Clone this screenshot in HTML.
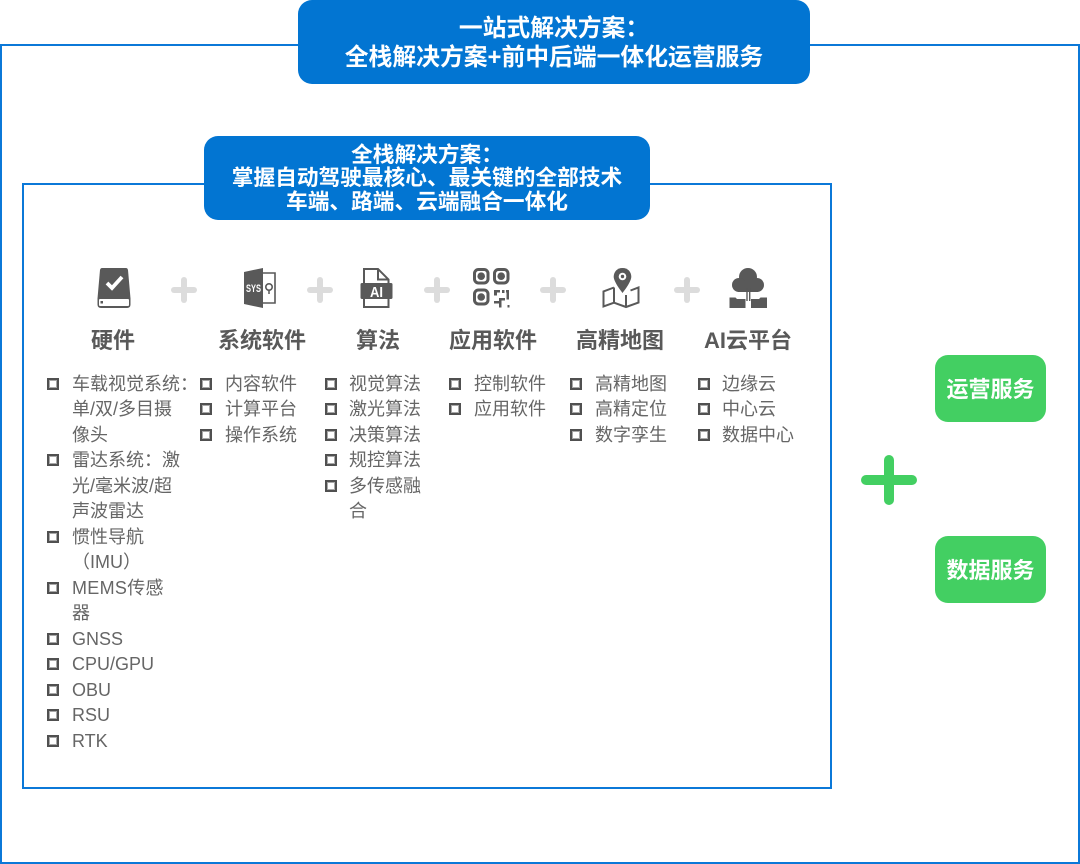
<!DOCTYPE html>
<html lang="zh">
<head>
<meta charset="utf-8">
<style>
html,body{margin:0;padding:0;background:#fff}
#p{position:relative;width:1080px;height:864px;overflow:hidden;background:#fff;font-family:"Liberation Sans","Noto Sans CJK SC",sans-serif}
#p>div{position:absolute;box-sizing:border-box}
.t{white-space:nowrap;line-height:26px;height:26px;font-size:18px;color:#666}
.h{white-space:nowrap;line-height:30px;height:30px;font-size:22px;font-weight:700;color:#595959;text-align:center;width:140px}
.w{white-space:nowrap;color:#fff;font-weight:700;text-align:center;left:0;width:100%}
.b{width:12px;height:12px;border:2px solid #505050;box-shadow:inset 0 0 0 1px #a8a8a8}
.g{left:935px;width:111px;height:67px;background:#43cf62;border-radius:13px;color:#fff;font-size:22px;font-weight:700;text-align:center;line-height:69px}
.pl{width:26px;height:26px}
.pl:before,.pl:after{content:"";position:absolute;background:#dcdcdc;border-radius:3px}
.pl:before{left:0;top:10px;width:26px;height:6px}
.pl:after{left:10px;top:0;width:6px;height:26px}
svg{position:absolute;overflow:visible}
</style>
</head>
<body>
<div id="p">
<div style="left:0;top:44px;width:1080px;height:820px;border:2px solid #0b78d8"></div>
<div style="left:22px;top:183px;width:810px;height:606px;border:2px solid #0b78d8"></div>

<div style="left:298px;top:0;width:512px;height:84px;background:#0275d2;border-radius:14px">
<div class="w" style="position:absolute;top:14px;font-size:23.8px;line-height:30px">一站式解决方案：</div>
<div class="w" style="position:absolute;top:43px;font-size:23.8px;line-height:30px">全栈解决方案+前中后端一体化运营服务</div>
</div>
<div style="left:204px;top:136px;width:446px;height:84px;background:#0275d2;border-radius:14px">
<div class="w" style="position:absolute;top:5px;font-size:21.7px;line-height:28px">全栈解决方案：</div>
<div class="w" style="position:absolute;top:28px;font-size:21.7px;line-height:28px">掌握自动驾驶最核心、最关键的全部技术</div>
<div class="w" style="position:absolute;top:52px;font-size:21.7px;line-height:28px">车端、路端、云端融合一体化</div>
</div>

<!-- icons -->
<svg style="left:0;top:0" width="1080" height="864" viewBox="0 0 1080 864">
<g fill="#595959">
<!-- disk -->
<path d="M102 268h24q1.500 0 2 2l2.500 28.500v6q0 3.500-3.500 3.500h-26q-3.500 0-3.500-3.500v-6l2.500-28.500q.5-2 2-2z"/>
<rect x="99" y="299" width="30" height="7" rx="1" fill="#fff"/>
<rect x="100.500" y="301" width="2.500" height="2.500" fill="#595959"/>
<path d="M107 283l5 5 10-11" fill="none" stroke="#fff" stroke-width="3.800"/>
<!-- sys -->
<path d="M244 272l19-4v40l-19-4z"/>
<path d="M263 273h12v30h-12" fill="none" stroke="#595959" stroke-width="1.600"/>
<circle cx="269" cy="287" r="3.200" fill="none" stroke="#595959" stroke-width="1.600"/>
<path d="M269 290.500v3.500" stroke="#595959" stroke-width="1.500"/>
<text x="246" y="292" font-family="Liberation Sans" font-size="11" font-weight="700" fill="#fff" textLength="15" lengthAdjust="spacingAndGlyphs">SYS</text>
<!-- AI file -->
<path d="M364 307v-38h14l10.500 10.500v27.500z" fill="none" stroke="#595959" stroke-width="2"/>
<path d="M378 269v10.500h10.500" fill="none" stroke="#595959" stroke-width="2"/>
<rect x="360.500" y="283" width="32" height="16" rx="1.500"/>
<text x="376.500" y="297" text-anchor="middle" font-family="Liberation Sans" font-size="15" font-weight="700" fill="#fff" textLength="13" lengthAdjust="spacingAndGlyphs">AI</text>
<!-- QR -->
<g fill="none" stroke="#595959" stroke-width="3">
<rect x="474.500" y="269.500" width="13.500" height="13.500" rx="4"/>
<rect x="494.500" y="269.500" width="13.500" height="13.500" rx="4"/>
<rect x="474.500" y="290" width="13.500" height="14" rx="4"/>
</g>
<circle cx="481.200" cy="276.200" r="3.800"/><circle cx="501.200" cy="276.200" r="3.800"/><circle cx="481.200" cy="297" r="3.800"/>
<path d="M494 290h6v2.500h-3v3h-3zM502 290h2.500v3H502zM506 290h3v9.500h-2.500v-7H506zM494 301h5v-3h6v2.500h-3.500v7h-2.500v-4h-5zM507.500 305h2v2.500h-2z"/>
<!-- map -->
<path d="M622.500 268c-5.400 0-8.800 3.900-8.800 8.800 0 5.400 8.800 16.200 8.800 16.200s8.800-10.800 8.800-16.200c0-4.900-3.400-8.800-8.800-8.800z"/>
<circle cx="622.500" cy="276.500" r="3.800" fill="#fff"/><circle cx="622.500" cy="276.500" r="1.700"/>
<path d="M614 287.500l-10.500 4v15l10.500-3.800 12 4.300 12.500-4.500v-15l-8 3M614 287.500v15.200M626 295v12" fill="none" stroke="#595959" stroke-width="2"/>
<!-- cloud -->
<circle cx="748" cy="277" r="9"/><circle cx="739" cy="285" r="7"/><circle cx="757" cy="285" r="7"/><rect x="738" y="281" width="20" height="11"/>
<rect x="746.300" y="288" width="1.400" height="13"/><rect x="749" y="288" width="1.400" height="13"/>
<path d="M729.500 297.500h6l1.500 1.500h8.500v9h-16zM751 299h8l1.500-1.500h6.500v10.500h-16z"/>
</g>
</svg>

<div class="pl" style="left:171px;top:277px"></div>
<div class="pl" style="left:307px;top:277px"></div>
<div class="pl" style="left:424px;top:277px"></div>
<div class="pl" style="left:540px;top:277px"></div>
<div class="pl" style="left:674px;top:277px"></div>

<div class="h" style="left:43px;top:326px">硬件</div>
<div class="h" style="left:192px;top:326px">系统软件</div>
<div class="h" style="left:308px;top:326px">算法</div>
<div class="h" style="left:423px;top:326px">应用软件</div>
<div class="h" style="left:550px;top:326px">高精地图</div>
<div class="h" style="left:678px;top:326px">AI云平台</div>

<!-- col 1 -->
<div class="b" style="left:47px;top:378px"></div><div class="t" style="left:72px;top:371px">车载视觉系统：</div>
<div class="t" style="left:72px;top:396px">单/双/多目摄</div>
<div class="t" style="left:72px;top:422px">像头</div>
<div class="b" style="left:47px;top:454px"></div><div class="t" style="left:72px;top:447px">雷达系统：激</div>
<div class="t" style="left:72px;top:473px">光/毫米波/超</div>
<div class="t" style="left:72px;top:498px">声波雷达</div>
<div class="b" style="left:47px;top:531px"></div><div class="t" style="left:72px;top:524px">惯性导航</div>
<div class="t" style="left:72px;top:549px">（IMU）</div>
<div class="b" style="left:47px;top:582px"></div><div class="t" style="left:72px;top:575px;letter-spacing:.3px">MEMS传感</div>
<div class="t" style="left:72px;top:600px">器</div>
<div class="b" style="left:47px;top:633px"></div><div class="t" style="left:72px;top:626px">GNSS</div>
<div class="b" style="left:47px;top:658px"></div><div class="t" style="left:72px;top:651px">CPU/GPU</div>
<div class="b" style="left:47px;top:684px"></div><div class="t" style="left:72px;top:677px">OBU</div>
<div class="b" style="left:47px;top:709px"></div><div class="t" style="left:72px;top:702px">RSU</div>
<div class="b" style="left:47px;top:735px"></div><div class="t" style="left:72px;top:728px">RTK</div>

<!-- col 2 -->
<div class="b" style="left:200px;top:378px"></div><div class="t" style="left:225px;top:371px">内容软件</div>
<div class="b" style="left:200px;top:403px"></div><div class="t" style="left:225px;top:396px">计算平台</div>
<div class="b" style="left:200px;top:429px"></div><div class="t" style="left:225px;top:422px">操作系统</div>

<!-- col 3 -->
<div class="b" style="left:325px;top:378px"></div><div class="t" style="left:349px;top:371px">视觉算法</div>
<div class="b" style="left:325px;top:403px"></div><div class="t" style="left:349px;top:396px">激光算法</div>
<div class="b" style="left:325px;top:429px"></div><div class="t" style="left:349px;top:422px">决策算法</div>
<div class="b" style="left:325px;top:454px"></div><div class="t" style="left:349px;top:447px">规控算法</div>
<div class="b" style="left:325px;top:480px"></div><div class="t" style="left:349px;top:473px">多传感融</div>
<div class="t" style="left:349px;top:498px">合</div>

<!-- col 4 -->
<div class="b" style="left:449px;top:378px"></div><div class="t" style="left:474px;top:371px">控制软件</div>
<div class="b" style="left:449px;top:403px"></div><div class="t" style="left:474px;top:396px">应用软件</div>

<!-- col 5 -->
<div class="b" style="left:570px;top:378px"></div><div class="t" style="left:595px;top:371px">高精地图</div>
<div class="b" style="left:570px;top:403px"></div><div class="t" style="left:595px;top:396px">高精定位</div>
<div class="b" style="left:570px;top:429px"></div><div class="t" style="left:595px;top:422px">数字孪生</div>

<!-- col 6 -->
<div class="b" style="left:698px;top:378px"></div><div class="t" style="left:722px;top:371px">边缘云</div>
<div class="b" style="left:698px;top:403px"></div><div class="t" style="left:722px;top:396px">中心云</div>
<div class="b" style="left:698px;top:429px"></div><div class="t" style="left:722px;top:422px">数据中心</div>

<!-- right -->
<div class="g" style="top:355px">运营服务</div>
<div class="g" style="top:536px">数据服务</div>
<div style="left:861px;top:475px;width:56px;height:10px;background:#43cf62;border-radius:5px"></div>
<div style="left:884px;top:455px;width:10px;height:50px;background:#43cf62;border-radius:5px"></div>
</div>
</body>
</html>
